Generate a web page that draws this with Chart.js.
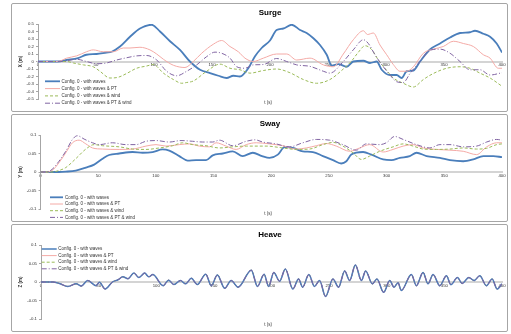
<!DOCTYPE html>
<html>
<head>
<meta charset="utf-8">
<script src="https://cdn.jsdelivr.net/npm/chart.js@4.4.0/dist/chart.umd.min.js"></script>
<style>
  body { margin: 0; background: #fff; width: 511px; height: 334px; overflow: hidden; position: relative; }
  .panel { position: absolute; left: 11px; width: 497px; border: 1px solid #a6a6a6; border-radius: 2px; box-sizing: border-box; background: #fff; }
  .panel canvas { position: absolute; left: 0; top: 0; }
</style>
</head>
<body>
<div class="panel" style="top:3px;height:109px"><canvas id="surge" width="495" height="107"></canvas></div>
<div class="panel" style="top:114px;height:108px"><canvas id="sway" width="495" height="106"></canvas></div>
<div class="panel" style="top:224px;height:108px"><canvas id="heave" width="495" height="106"></canvas></div>
<script>
const seriesNames = ['Config. 0 - with waves', 'Config. 0 - with waves & PT', 'Config. 0 - with waves & wind', 'Config. 0 - with waves & PT & wind'];

// Surge X (m)
const surgeWavesT = [0,17,24.7,34.6,41.8,50.5,59,63.5,70.7,79.3,87.9,98,105.2,113.8,122.4,131,139.7,148.3,155.5,162.6,168.4,174.1,181.3,187.1,192.8,200,205.7,211.5,218.7,225.9,231.6,237.4,243.1,248.9,253.2,258.9,266.1,271.8,280.5,286.2,292,296.3,303.5,309.2,313.5,317.8,323.6,329.3,337.9,346.6,355.2,363.8,372.4,376.7,383.9,389.7,395.4,400];
const surgeWavesX = [0,0,0.02,0.045,0.09,0.1,0.12,0.13,0.2,0.33,0.44,0.49,0.4,0.27,0.155,0,-0.11,-0.155,-0.19,-0.22,-0.19,-0.2,-0.09,0.07,0.18,0.28,0.42,0.44,0.49,0.42,0.38,0.31,0.22,0.09,-0.055,-0.035,-0.07,0,0.01,-0.02,0,-0.11,-0.18,-0.18,-0.22,-0.13,-0.12,0,0.16,0.24,0.32,0.38,0.39,0.41,0.37,0.33,0.24,0.12];
const surgePtT = [0,17,24.7,33.3,41.8,47.6,56.2,64.9,73.5,79.3,87.9,96.5,102.3,108.1,116.7,126.7,133.9,141.1,151.1,158.3,165.5,172.7,178.4,185.6,194.3,205.7,214.4,223,234.5,246,254.6,263.2,271.8,280.5,284,289.1,294.8,300.6,306.3,312.1,317.8,323.6,332.2,340.8,349.4,358.1,366.7,375.3,383.9,389.7,396.8,400];
const surgePtX = [0,0,0.045,0.075,0.13,0.155,0.13,0.13,0.18,0.18,0.19,0.155,0.1,0.03,-0.05,-0.08,0,0.11,0.23,0.28,0.2,0.13,0.045,0,0.045,0.1,0.1,0.02,0.045,-0.045,-0.07,0.1,0.29,0.41,0.36,0.38,0.22,0.09,-0.04,-0.13,-0.13,-0.07,0.11,0.165,0.2,0.27,0.24,0.2,0.09,0.045,-0.09,-0.09];
const surgeWindT = [0,25,30.5,39.1,47.6,53.4,62,69.2,76.4,85,93.7,99.4,108.1,116.7,123.9,128.2,133.9,145.4,156.9,165.5,174.1,182.8,194.3,205.7,217.2,228.7,240.2,251.7,263.2,270,276,282,287.6,293.4,299.1,306.3,314.9,323.6,332.2,340.8,352.3,363.8,372.4,381,389.7,400];
const surgeWindX = [0,0,-0.02,-0.045,-0.07,-0.13,-0.22,-0.21,-0.16,-0.09,-0.06,-0.04,-0.155,-0.24,-0.29,-0.28,-0.26,-0.13,-0.035,-0.09,-0.11,-0.155,-0.12,-0.1,-0.15,-0.24,-0.29,-0.24,-0.1,0,0.12,0.21,0.16,0.02,-0.09,-0.22,-0.29,-0.34,-0.24,-0.16,-0.09,-0.07,-0.09,-0.155,-0.22,-0.33];
const surgePtWindT = [0,17,24.7,33.3,41.8,50.5,59,67.8,76.4,85,93.7,102.3,110.9,119.6,128.2,136.8,145.4,152.6,158.3,165.5,171.3,178.4,185.6,194.3,205.7,214.4,223,234.5,246,251.7,263.2,271.8,280.5,284.8,290.5,297.7,303.5,309.2,314.9,320.7,329.3,337.9,346.6,355.2,363.8,372.4,381,389.7,400];
const surgePtWindX = [0,0,0.01,0.03,0,-0.03,-0.02,0.02,0.05,0.075,0.08,0.02,-0.13,-0.19,-0.13,-0.045,0.065,0.125,0.11,0.045,-0.07,-0.09,-0.045,-0.04,0.04,0,-0.045,-0.065,-0.13,-0.155,0,0.155,0.29,0.24,0.09,-0.07,-0.18,-0.27,-0.28,-0.16,0,0.15,0.165,0.11,0,-0.11,-0.11,-0.18,-0.15];

// Sway Y (m)
const swayWavesT = [0,16,21.9,30.6,39.3,46.5,53.8,59.5,68.2,79.8,88.5,97.2,105.8,111.6,120.3,127.5,134.8,143.5,149.3,158,166.6,175.3,184,192,198.5,205.7,211.5,218.7,227.4,236.1,244.8,253.5,260.7,265.1,269.4,279.6,286.8,297,304.2,311.4,320.1,325.9,334.6,346.2,354.9,366.4,375.1,383.8,392.5,400];
const swayWavesY = [0,0,0.001,0.004,0.012,0.02,0.036,0.046,0.05,0.054,0.052,0.054,0.061,0.058,0.043,0.031,0.032,0.032,0.045,0.05,0.056,0.043,0.052,0.043,0.038,0.047,0.067,0.065,0.056,0.054,0.043,0.032,0.023,0.029,0.047,0.054,0.047,0.034,0.032,0.038,0.043,0.052,0.043,0.038,0.032,0.029,0.034,0.043,0.043,0.04];
const swayPtT = [0,4.5,10,16,21.9,27.7,33.5,39.3,45.1,53.8,68.2,79.8,91.4,100.1,108.8,120.3,129,137.7,146.4,152.2,160.9,169.6,178.3,187,198.5,210,221.6,230.3,239,247.7,256.4,268,276.6,285.3,297,305.6,314.3,323,331.7,343.3,354.9,366.4,378,386.7,395.4,400];
const swayPtY = [0,0,0.004,0.025,0.052,0.079,0.086,0.076,0.065,0.062,0.061,0.062,0.07,0.074,0.07,0.074,0.076,0.07,0.068,0.079,0.07,0.061,0.074,0.079,0.076,0.071,0.062,0.065,0.071,0.077,0.07,0.056,0.065,0.074,0.054,0.061,0.07,0.074,0.065,0.061,0.059,0.056,0.047,0.068,0.079,0.079];
const swayWindT = [0,10,16,21.9,30.6,39.3,46.5,53.8,68.2,79.8,91.4,103,114.5,123.2,131.9,143.5,155.1,166.6,178.3,195.5,210,221.6,233.2,244.8,253.5,262.1,270.8,278.1,285.3,294,305.6,314.3,323,331.7,343.3,354.9,366.4,378,386.7,395.4,400];
const swayWindY = [0,0,0.004,0.012,0.036,0.062,0.074,0.071,0.068,0.062,0.061,0.065,0.071,0.079,0.074,0.071,0.065,0.068,0.07,0.07,0.065,0.061,0.062,0.074,0.08,0.07,0.052,0.034,0.043,0.056,0.068,0.076,0.07,0.062,0.061,0.062,0.065,0.062,0.064,0.074,0.076];
const swayPtWindT = [0,4.5,10,16,21.9,27.7,32,37.8,45.1,50.9,62.4,74,82.7,91.4,100.1,111.6,121.8,131.9,140.6,149.3,155.1,166.6,178.3,186,192.6,204.2,215.8,227.4,239,250.6,262.1,273.7,282.4,294,299.7,307,314.3,325.9,337.5,346.2,354.9,366.4,378,386.7,395.4,400];
const swayPtWindY = [0,0,0.007,0.029,0.056,0.088,0.098,0.089,0.079,0.074,0.079,0.074,0.074,0.083,0.085,0.081,0.085,0.083,0.081,0.081,0.086,0.071,0.083,0.087,0.081,0.076,0.068,0.079,0.088,0.086,0.074,0.059,0.076,0.074,0.079,0.096,0.088,0.074,0.065,0.074,0.074,0.068,0.07,0.081,0.088,0.086];

// Heave Z (m) - the four runs lie on top of each other
const heaveT = [0,10,16,23.3,30.5,35,40.5,47.8,50.7,55.6,62,66.8,71,75.5,80.6,85,90,93.5,97,106,110.7,115.4,121,125.5,130.4,135.6,142.9,147.8,153,159.4,165,171,182.5,187.8,193.6,197.5,202,207,212,218.5,223.5,227,232.4,237.3,241.7,246.9,253.3,258.2,263.5,267.8,272.8,278,281.7,287.5,291.5,297.3,302.6,306.3,309.8,312.6,321.4,325.7,331.5,335.8,340.2,346,351.8,355.6,361.4,365.4,371.2,375.8,380.7,386.5,391.4,395.8,400];
const heaveZ = [0,0,-0.004,-0.012,-0.005,-0.011,0.004,-0.01,-0.001,-0.019,0,0.006,0.014,0.009,0.024,0.012,0.024,0.014,0.02,-0.01,0.005,-0.007,0.004,-0.005,0.01,-0.007,0.021,-0.01,0.019,-0.017,0.004,-0.014,0.032,-0.012,0.021,-0.012,0.026,0.002,0.035,-0.019,0.008,-0.014,0.02,-0.012,0.004,-0.039,0.008,-0.014,0.03,0.004,0.046,0.004,0.03,-0.005,0.008,-0.028,0.004,-0.014,-0.002,-0.023,0.02,-0.01,0.026,-0.005,0.02,-0.01,0.017,-0.007,0.012,-0.004,0.012,0.004,0.017,-0.01,0.008,-0.019,-0.005];

// Excel-like styles for the four series
const seriesStyle = [
    { borderColor: '#4a7ebb', borderWidth: 1.8, borderDash: [] },
    { borderColor: '#f4aaa6', borderWidth: 1, borderDash: [] },
    { borderColor: '#9bbb59', borderWidth: 1, borderDash: [3, 2] },
    { borderColor: '#8064a2', borderWidth: 1, borderDash: [5, 2, 1, 2] }
];

const FONT = '"Liberation Sans", Arial, sans-serif';

// title, x axis title and legend drawn in the canvas
const panelText = {
    id: 'panelText',
    afterDraw(chart, args, o) {
        const ctx = chart.ctx;
        ctx.save();
        ctx.textAlign = 'center';
        ctx.textBaseline = 'middle';
        ctx.fillStyle = '#000';
        ctx.font = 'bold 8px ' + FONT;
        ctx.fillText(o.title, o.titleX, o.titleY);
        ctx.fillStyle = '#333';
        ctx.font = '4.5px ' + FONT;
        ctx.fillText('t (s)', o.xTitleX, o.xTitleY);
        ctx.textAlign = 'left';
        chart.data.datasets.forEach((ds, i) => {
            const y = o.legY + i * o.legStep;
            ctx.strokeStyle = ds.borderColor;
            ctx.lineWidth = ds.borderWidth;
            ctx.setLineDash(ds.borderDash);
            ctx.beginPath();
            ctx.moveTo(o.legX0, y);
            ctx.lineTo(o.legX1, y);
            ctx.stroke();
            ctx.fillText(ds.label, o.legText, y);
        });
        ctx.restore();
    }
};

function pairs(t, v) {
    return t.map((ti, i) => ({ x: ti, y: v[i] }));
}

function makeChart(id, series, cfg) {
    const datasets = series.map((s, i) => ({
        label: seriesNames[i],
        data: pairs(s[0], s[1]),
        borderColor: seriesStyle[i].borderColor,
        borderWidth: cfg.widths ? cfg.widths[i] : seriesStyle[i].borderWidth,
        borderDash: seriesStyle[i].borderDash,
        pointRadius: 0,
        fill: false,
        cubicInterpolationMode: 'monotone',
        order: cfg.order ? cfg.order[i] : 3 - i
    }));
    return new Chart(document.getElementById(id), {
        type: 'line',
        data: { datasets: datasets },
        options: {
            responsive: false,
            animation: false,
            layout: { padding: { left: cfg.padLeft, right: 5, top: 20, bottom: 12 } },
            plugins: {
                legend: { display: false },
                tooltip: { enabled: false },
                panelText: cfg.text
            },
            scales: {
                x: {
                    type: 'linear',
                    min: 0, max: 400,
                    position: { y: 0 },
                    ticks: { stepSize: 50, autoSkip: false, padding: 1, color: '#333', font: { family: FONT, size: 4.3 }, maxRotation: 0 },
                    grid: { display: true, drawOnChartArea: false, drawTicks: false, color: 'rgba(0,0,0,0)' },
                    border: { display: true, color: '#d4d4d4', width: 2 }
                },
                y: {
                    min: cfg.yMin, max: cfg.yMax,
                    afterFit: (s) => { s.width = cfg.axisW; },
                    ticks: {
                        stepSize: cfg.yStep, autoSkip: false, padding: 2, color: '#333',
                        font: { family: FONT, size: 4.3 },
                        callback: (v) => String(Math.round(v * 100) / 100)
                    },
                    grid: { display: true, drawOnChartArea: false, drawTicks: true, tickLength: 2, color: '#a6a6a6' },
                    border: { display: true, color: '#a6a6a6', width: 1 },
                    title: { display: true, text: cfg.yTitle, color: '#333', padding: 0, font: { family: FONT, size: 4.5, weight: 'bold' } }
                }
            }
        },
        plugins: [panelText]
    });
}

makeChart('surge', [
    [surgeWavesT, surgeWavesX], [surgePtT, surgePtX], [surgeWindT, surgeWindX], [surgePtWindT, surgePtWindX]
], {
    yMin: -0.5, yMax: 0.5, yStep: 0.1, yTitle: 'X (m)', padLeft: 6, axisW: 20,
    text: { title: 'Surge', titleX: 258, titleY: 9, xTitleX: 256, xTitleY: 99, legX0: 33, legX1: 48, legText: 49.5, legY: 77.3, legStep: 7.3 }
});

makeChart('sway', [
    [swayWavesT, swayWavesY], [swayPtT, swayPtY], [swayWindT, swayWindY], [swayPtWindT, swayPtWindY]
], {
    yMin: -0.1, yMax: 0.1, yStep: 0.05, yTitle: 'Y (m)', padLeft: 6.5, axisW: 22,
    text: { title: 'Sway', titleX: 258, titleY: 9, xTitleX: 256, xTitleY: 99, legX0: 38, legX1: 51, legText: 53, legY: 82.3, legStep: 6.7 }
});

makeChart('heave', [
    [heaveT, heaveZ], [heaveT, heaveZ], [heaveT, heaveZ], [heaveT, heaveZ]
], {
    yMin: -0.1, yMax: 0.1, yStep: 0.05, yTitle: 'Z (m)', padLeft: 6.5, axisW: 22.5,
    widths: [1.5, 1, 1, 1], order: [1, 3, 2, 0],
    text: { title: 'Heave', titleX: 258, titleY: 10, xTitleX: 256, xTitleY: 100, legX0: 29.7, legX1: 44.7, legText: 46.3, legY: 24, legStep: 6.6 }
});
</script>
</body>
</html>
